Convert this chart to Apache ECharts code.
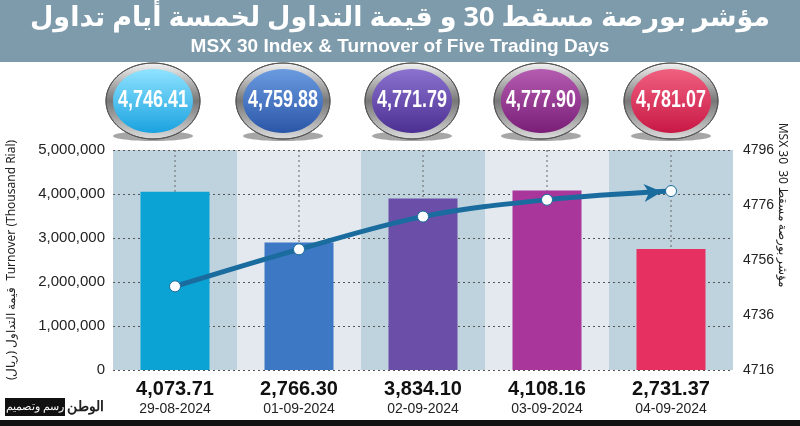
<!DOCTYPE html>
<html>
<head>
<meta charset="utf-8">
<script src="https://cdn.jsdelivr.net/npm/echarts@6/dist/echarts.min.js"></script>
<style>
  html, body { margin: 0; padding: 0; background: #fff; }
  #chart { width: 800px; height: 426px; }
</style>
</head>
<body>
<div id="chart"></div>
<script>
const dates = ['29-08-2024', '01-09-2024', '02-09-2024', '03-09-2024', '04-09-2024']
const turnoverLabels = ['4,073.71', '2,766.30', '3,834.10', '4,108.16', '2,731.37']
const turnover = [4050000, 2900000, 3900000, 4080000, 2750000]
const indexValues = [4746.41, 4759.88, 4771.79, 4777.90, 4781.07]
const barColors = ['#0aa3d3', '#3d78c4', '#6a4ea8', '#a8369b', '#e73062']
const badgeColors = [['#8fe3ff', '#1aa2e0'], ['#6a9be0', '#2b56a8'], ['#8b72cf', '#4b2f92'], ['#b45cb0', '#7a1e78'], ['#f0607f', '#c81845']]
const bgColors = ['#bfd3de', '#e3e9ee', '#bfd3de', '#e3e9ee', '#bfd3de']

const chart = echarts.init(document.getElementById('chart'))
const FONT = 'Liberation Sans'

const graphics = [
  { type: 'rect', shape: { x: 0, y: 0, width: 800, height: 62 }, style: { fill: '#7e9bab' } },
  { type: 'text', x: 400, y: 18, style: { text: 'مؤشر بورصة مسقط 30 و قيمة التداول لخمسة أيام تداول', fill: '#fff', font: 'bold 27px "Noto Sans", "DejaVu Sans"', align: 'center', verticalAlign: 'middle' } },
  { type: 'text', x: 400, y: 47, style: { text: 'MSX 30 Index & Turnover of Five Trading Days', fill: '#fff', font: 'bold 19px "Liberation Sans"', align: 'center', verticalAlign: 'middle' } },
  { type: 'rect', shape: { x: 0, y: 420, width: 800, height: 6 }, style: { fill: '#111' } },
  { type: 'rect', shape: { x: 5, y: 398, width: 60, height: 18 }, style: { fill: '#111' } },
  { type: 'text', x: 35, y: 407, style: { text: 'رسم وتصميم', fill: '#fff', font: '11px "Noto Sans"', align: 'center', verticalAlign: 'middle' } },
  { type: 'text', x: 85, y: 407, style: { text: 'الوطن', fill: '#222', font: 'bold 14px "Noto Sans"', align: 'center', verticalAlign: 'middle' } },
  { type: 'text', x: 12, y: 260, rotation: Math.PI / 2, style: { text: 'قيمة التداول (ريال)  Turnover (Thousand Rial)', fill: '#222', font: '12px "Noto Sans"', align: 'center', verticalAlign: 'middle' } },
  { type: 'text', x: 782, y: 205, rotation: -Math.PI / 2, style: { text: 'MSX 30  مؤشر بورصة مسقط 30', fill: '#222', font: '12px "Noto Sans"', align: 'center', verticalAlign: 'middle' } }
]

const badgeX = [153, 283, 412, 541, 671]
indexValues.forEach((v, i) => {
  const cx = badgeX[i], cy = 101
  graphics.push({ type: 'ellipse', shape: { cx: cx, cy: cy + 35, rx: 40, ry: 5 }, style: { fill: 'rgba(0,0,0,0.35)' } })
  graphics.push({ type: 'ellipse', shape: { cx: cx, cy: cy, rx: 47, ry: 38 },
    style: { fill: new echarts.graphic.LinearGradient(0, 0, 0, 1, [{ offset: 0, color: '#f4f4f4' }, { offset: 0.5, color: '#777' }, { offset: 1, color: '#ddd' }]), stroke: '#555', lineWidth: 1 } })
  graphics.push({ type: 'ellipse', shape: { cx: cx, cy: cy, rx: 40, ry: 32 },
    style: { fill: new echarts.graphic.LinearGradient(0, 0, 0, 1, [{ offset: 0, color: badgeColors[i][0] }, { offset: 1, color: badgeColors[i][1] }]) } })
  graphics.push({ type: 'text', x: cx, y: cy, scaleX: 0.78, style: { text: v.toFixed(2).replace(/\B(?=(\d{3})+(?!\d))/, ','), fill: '#fff', font: 'bold 23px "Liberation Sans"', align: 'center', verticalAlign: 'middle' } })
})

chart.setOption({
  animation: false,
  grid: { left: 113, right: 67, top: 150, bottom: 56 },
  graphic: graphics,
  xAxis: {
    type: 'category',
    data: dates,
    axisLine: { show: false },
    axisTick: { show: false },
    axisLabel: {
      margin: 8,
      formatter: (val, idx) => '{v|' + turnoverLabels[idx] + '}\n{d|' + val + '}',
      rich: {
        v: { fontFamily: FONT, fontWeight: 'bold', fontSize: 20, color: '#111', lineHeight: 22 },
        d: { fontFamily: FONT, fontSize: 14, color: '#222', lineHeight: 18 }
      }
    }
  },
  yAxis: [{
    type: 'value', min: 0, max: 5000000, interval: 1000000,
    axisLine: { show: false }, axisTick: { show: false },
    axisLabel: { fontFamily: FONT, fontSize: 15, color: '#222', margin: 8,
      formatter: v => v === 0 ? '0' : v.toLocaleString('en-US') },
    splitLine: { lineStyle: { color: '#555', type: [2, 3] } }
  }, {
    type: 'value', min: 4716, max: 4796, interval: 20,
    axisLine: { show: false }, axisTick: { show: false },
    axisLabel: { fontFamily: FONT, fontSize: 14, color: '#222', margin: 10, formatter: v => String(v) },
    splitLine: { show: false }
  }],
  series: [{
    type: 'bar', barWidth: 69, z: 3,
    data: turnover.map((v, i) => ({ value: v, itemStyle: { color: barColors[i] } }))
  }, {
    type: 'line', yAxisIndex: 1, smooth: 0.35, z: 5,
    data: indexValues,
    symbol: 'circle', symbolSize: 11,
    lineStyle: { color: '#1a6c9f', width: 5 },
    itemStyle: { color: '#fff', borderColor: '#1a6c9f', borderWidth: 1 }
  }]
})

// column backgrounds, vertical dashed lines and arrow head, placed from the axes
const extra = []
const step = 620 / dates.length
dates.forEach((d, i) => {
  const cx = chart.convertToPixel({ xAxisIndex: 0 }, d)
  extra.push({ type: 'rect', z: -1, shape: { x: cx - step / 2, y: 150, width: step, height: 220 }, style: { fill: bgColors[i] } })
  extra.push({ type: 'line', z: 1, shape: { x1: cx, y1: 150, x2: cx, y2: 370 }, style: { stroke: '#666', lineDash: [2, 3], lineWidth: 1 } })
})
const p3 = chart.convertToPixel({ xAxisIndex: 0, yAxisIndex: 1 }, [3, indexValues[3]])
const p4 = chart.convertToPixel({ xAxisIndex: 0, yAxisIndex: 1 }, [4, indexValues[4]])
const ang = Math.atan2(p4[1] - p3[1], p4[0] - p3[0])
const tip = [p4[0] - 9 * Math.cos(ang), p4[1] - 9 * Math.sin(ang)]
const back = [tip[0] - 18 * Math.cos(ang), tip[1] - 18 * Math.sin(ang)]
const nx = -Math.sin(ang) * 9, ny = Math.cos(ang) * 9
extra.push({ type: 'polygon', z: 10, shape: { points: [tip, [back[0] + nx, back[1] + ny], [back[0] + 5 * Math.cos(ang), back[1] + 5 * Math.sin(ang)], [back[0] - nx, back[1] - ny]] }, style: { fill: '#1a6c9f' } })
chart.setOption({ graphic: graphics.concat(extra) })
</script>
</body>
</html>
